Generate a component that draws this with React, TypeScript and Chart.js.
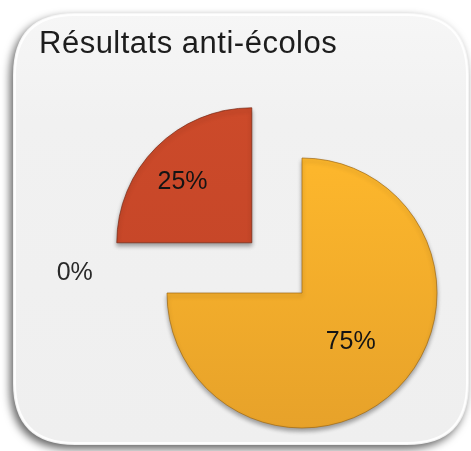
import React, { useEffect, useRef } from "react";
import { Chart, registerables } from "chart.js";

Chart.register(...registerables);

const TITLE = "Résultats anti-écolos";
const CATEGORIES = ["Pour", "Neutre", "Contre"];
const VALUES = [75, 0, 25];
const LABELS = ["75%", "0%", "25%"];
const COLORS_TOP = ["#fdb72c", "#999999", "#cc4a2a"];
const COLORS_BOTTOM = ["#e7a22a", "#999999", "#c24427"];
const BORDERS = ["rgba(160,105,20,0.7)", "rgba(0,0,0,0)", "rgba(120,40,20,0.7)"];
const OFFSETS = [0, 0, 284];
// label placement: fraction of radius from the (displaced) slice centre, angular shift (deg)
const LABEL_POS = [
  { f: 0.51, shift: 0 },
  { f: 1.69, shift: 5 },
  { f: 0.68, shift: -4 },
];
const RADIUS = 135;

function roundRect(ctx: CanvasRenderingContext2D, x: number, y: number, w: number, h: number, r: number) {
  ctx.beginPath();
  ctx.moveTo(x + r, y);
  ctx.lineTo(x + w - r, y);
  ctx.quadraticCurveTo(x + w, y, x + w, y + r);
  ctx.lineTo(x + w, y + h - r);
  ctx.quadraticCurveTo(x + w, y + h, x + w - r, y + h);
  ctx.lineTo(x + r, y + h);
  ctx.quadraticCurveTo(x, y + h, x, y + h - r);
  ctx.lineTo(x, y + r);
  ctx.quadraticCurveTo(x, y, x + r, y);
  ctx.closePath();
}

const cardPlugin = {
  id: "card",
  beforeDraw(chart: any) {
    const ctx = chart.ctx as CanvasRenderingContext2D;
    ctx.save();
    ctx.fillStyle = "#ffffff";
    ctx.fillRect(0, 0, chart.width, chart.height);
    ctx.shadowColor = "rgba(0,0,0,0.6)";
    ctx.shadowBlur = 8;
    ctx.shadowOffsetX = -3;
    ctx.shadowOffsetY = 4;
    roundRect(ctx, 13, 13, 456, 432, 62);
    const g = ctx.createLinearGradient(0, 13, 0, 445);
    g.addColorStop(0, "#f6f6f6");
    g.addColorStop(0.25, "#f1f1f1");
    g.addColorStop(1, "#efefef");
    ctx.fillStyle = g;
    ctx.fill();
    ctx.shadowColor = "transparent";
    ctx.strokeStyle = "rgba(255,255,255,0.9)";
    ctx.lineWidth = 2;
    roundRect(ctx, 15, 15, 452, 428, 60);
    ctx.stroke();
    ctx.restore();

    ctx.save();
    ctx.fillStyle = "#1d1d1d";
    ctx.font = "31px 'Liberation Sans', Arial, sans-serif";
    (ctx as any).letterSpacing = "0.5px";
    ctx.textAlign = "left";
    ctx.textBaseline = "alphabetic";
    ctx.fillText(TITLE, 39, 53);
    ctx.restore();
  },
  beforeDatasetsDraw(chart: any) {
    const ctx = chart.ctx as CanvasRenderingContext2D;
    ctx.save();
    ctx.shadowColor = "rgba(0,0,0,0.35)";
    ctx.shadowBlur = 4;
    ctx.shadowOffsetX = 0;
    ctx.shadowOffsetY = 3;
  },
  afterDatasetsDraw(chart: any) {
    const ctx = chart.ctx as CanvasRenderingContext2D;
    ctx.restore();
    const meta = chart.getDatasetMeta(0);
    ctx.save();
    ctx.font = "25px 'Liberation Sans', Arial, sans-serif";
    ctx.textAlign = "center";
    ctx.textBaseline = "middle";
    meta.data.forEach((arc: any, i: number) => {
      const p = arc.getProps(["x", "y", "startAngle", "endAngle", "outerRadius"], true);
      const mid = (p.startAngle + p.endAngle) / 2 + (LABEL_POS[i].shift * Math.PI) / 180;
      const off = (OFFSETS[i] || 0) / 4;
      const midRaw = (p.startAngle + p.endAngle) / 2;
      const cx = p.x + Math.cos(midRaw) * off;
      const cy = p.y + Math.sin(midRaw) * off;
      const d = LABEL_POS[i].f * p.outerRadius;
      ctx.fillStyle = i === 1 ? "#2a2a2a" : "#141414";
      ctx.fillText(LABELS[i], cx + Math.cos(mid) * d, cy + Math.sin(mid) * d);
    });
    ctx.restore();
  },
};

export default function App() {
  const ref = useRef<HTMLCanvasElement>(null);
  useEffect(() => {
    if (!ref.current) return;
    const chart = new Chart(ref.current, {
      type: "pie",
      data: {
        labels: CATEGORIES,
        datasets: [
          {
            data: VALUES,
            backgroundColor: (c: any) => {
              const i = c.dataIndex;
              const area = c.chart.chartArea;
              if (!area) return COLORS_TOP[i];
              const cy = (area.top + area.bottom) / 2;
              const g = c.chart.ctx.createLinearGradient(0, cy - RADIUS, 0, cy + RADIUS);
              g.addColorStop(0, COLORS_TOP[i]);
              g.addColorStop(1, COLORS_BOTTOM[i]);
              return g;
            },
            borderColor: BORDERS,
            borderWidth: 1,
            offset: OFFSETS,
            hoverOffset: 0,
          },
        ],
      },
      options: {
        responsive: false,
        animation: false,
        radius: RADIUS,
        layout: { padding: { left: 140, right: 7, top: 140, bottom: 5 } },
        plugins: {
          legend: { display: false },
          tooltip: { enabled: false },
          title: { display: false },
        },
        events: [],
      } as any,
      plugins: [cardPlugin],
    });
    return () => chart.destroy();
  }, []);
  return (
    <div style={{ position: "absolute", left: 0, top: 0, width: 471, height: 451 }}>
      <canvas ref={ref} width={471} height={451} />
    </div>
  );
}
